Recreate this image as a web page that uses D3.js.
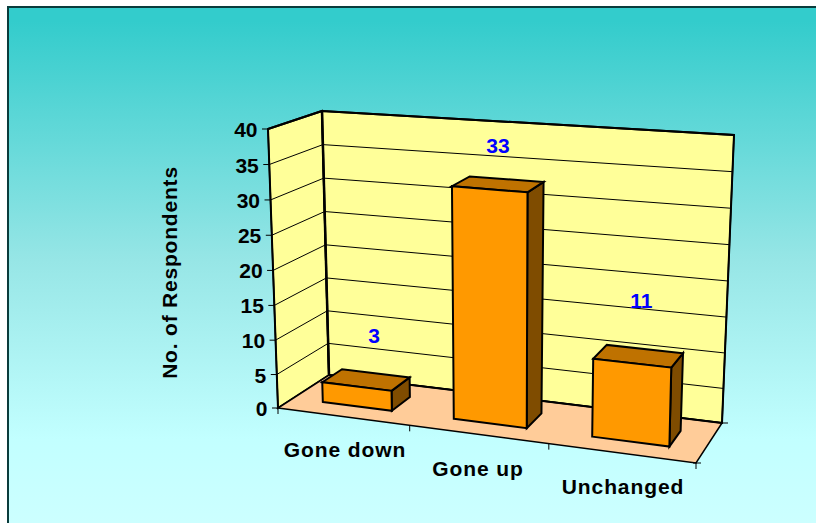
<!DOCTYPE html>
<html>
<head>
<meta charset="utf-8">
<script src="https://cdn.jsdelivr.net/npm/d3@7"></script>
<style>
  html, body { margin: 0; padding: 0; background: #fff; }
  svg { display: block; }
  text { font-family: "Liberation Sans", Arial, sans-serif; font-weight: bold; }
</style>
</head>
<body>
<div id="chart"></div>
<script>
// data
const categories = ["Gone down", "Gone up", "Unchanged"];
const respondents = [3, 33, 11];
const yTicks = [0, 5, 10, 15, 20, 25, 30, 35, 40];
const yTitle = "No. of Respondents";

const width = 816, height = 523;

const svg = d3.select("#chart").append("svg")
    .attr("width", width)
    .attr("height", height);

// background panel
const grad = svg.append("defs").append("linearGradient")
    .attr("id", "panel")
    .attr("gradientUnits", "userSpaceOnUse")
    .attr("x1", 0).attr("y1", 0).attr("x2", 0).attr("y2", 523);
grad.append("stop").attr("offset", "4%").attr("stop-color", "#33cccc");
grad.append("stop").attr("offset", "50%").attr("stop-color", "#97e6e6");
grad.append("stop").attr("offset", "84%").attr("stop-color", "#c2ffff");
grad.append("stop").attr("offset", "100%").attr("stop-color", "#ccffff");

svg.append("rect")
    .attr("x", 8).attr("y", 7)
    .attr("width", 830).attr("height", 530)
    .attr("fill", "url(#panel)")
    .attr("stroke", "#0a3c3c")
    .attr("stroke-width", 2);

// scales: category and depth run 0..1 across the box, value runs 0..1 up it
const xBand = d3.scaleBand().domain(categories).range([0, 1])
    .paddingInner(0.466).paddingOuter(0.233);
const xStep = d3.scaleLinear().domain([0, categories.length]).range([0, 1]);
// the value steps get slightly taller towards the top in the picture
const yScale = d3.scalePow().exponent(1.02).domain([0, 40]).range([0, 1]);

// box corners on screen: front-left, front-right, back-right, back-left
const floorQuad = [[278, 408], [696, 463], [722, 423], [329, 375]];
const topQuad = [[268, 129], [703, 163], [734, 135], [322, 111]];
const skew = 0.92; // the category axis is not quite even on screen

function warp(u) {
  return skew * u / (1 + (skew - 1) * u);
}

function bilerp(q, u, v) {
  const w = warp(u);
  return [0, 1].map(i =>
    (q[0][i] * (1 - w) + q[1][i] * w) * (1 - v) +
    (q[3][i] * (1 - w) + q[2][i] * w) * v);
}

function project(u, v, t) {
  const a = bilerp(floorQuad, u, v), b = bilerp(topQuad, u, v);
  return [a[0] + (b[0] - a[0]) * t, a[1] + (b[1] - a[1]) * t];
}

const line = d3.line();
function poly(pts, fill, sw) {
  return svg.append("path")
      .attr("d", line(pts) + "Z")
      .attr("fill", fill)
      .attr("stroke", "#000")
      .attr("stroke-width", sw)
      .attr("stroke-linejoin", "miter");
}
function seg(a, b, sw) {
  return svg.append("line")
      .attr("x1", a[0]).attr("y1", a[1])
      .attr("x2", b[0]).attr("y2", b[1])
      .attr("stroke", "#000")
      .attr("stroke-width", sw);
}

// walls and floor
poly([project(0, 0, 0), project(0, 1, 0), project(0, 1, 1), project(0, 0, 1)], "#ffff99", 2);
poly([project(0, 1, 0), project(1, 1, 0), project(1, 1, 1), project(0, 1, 1)], "#ffff99", 2);
poly([project(0, 0, 0), project(1, 0, 0), project(1, 1, 0), project(0, 1, 0)], "#ffcc99", 1.5);

// gridlines
yTicks.filter(d => d > 0 && d < 40).forEach(d => {
  const t = yScale(d);
  seg(project(0, 0, t), project(0, 1, t), 1);
  seg(project(0, 1, t), project(1, 1, t), 1);
});

// redraw the heavy edges over the grid ends
seg(project(0, 1, 0), project(0, 1, 1), 2.5);
seg(project(0, 0, 0), project(0, 0, 1), 1.5);
seg(project(0, 0, 1), project(0, 1, 1), 2);
seg(project(0, 1, 1), project(1, 1, 1), 2);
seg(project(1, 1, 0), project(1, 1, 1), 1.5);
seg(project(0, 1, 0), project(1, 1, 0), 2);

// value axis ticks and labels
yTicks.forEach(d => {
  const p = project(0, 0, yScale(d));
  seg([p[0] - 6, p[1]], p, 1);
  svg.append("text")
      .attr("x", p[0] - 10.5)
      .attr("y", p[1] + 0.5)
      .attr("dy", "0.36em")
      .attr("text-anchor", "end")
      .attr("font-size", 21)
      .text(d);
});

// category axis ticks
d3.range(categories.length + 1).forEach(i => {
  const p = project(xStep(i), 0, 0);
  seg(p, [p[0], p[1] + 6], 1);
});
const endFront = project(1, 0, 0), endBack = project(1, 1, 0);
seg([endFront[0] - 3, endFront[1]], [endFront[0] + 5, endFront[1]], 1);
seg(endBack, [endBack[0] + 6, endBack[1]], 1);

// category labels step down along the front edge
svg.selectAll(".cat")
    .data(categories)
    .enter()
    .append("text")
    .attr("class", "cat")
    .attr("text-anchor", "middle")
    .attr("font-size", 21)
    .attr("x", (d, i) => [345, 478, 623][i])
    .attr("y", (d, i) => [457, 476, 494][i])
    .attr("letter-spacing", "0.9px")
    .text(d => d);

// bars
const depth = [0.3, 0.7];
const liftLabel = [[8, -44], [0, -39], [3, -56]];
categories.forEach((c, i) => {
  const u0 = xBand(c), u1 = u0 + xBand.bandwidth();
  const t = yScale(respondents[i]);
  const [v0, v1] = depth;
  poly([project(u1, v0, 0), project(u1, v1, 0), project(u1, v1, t), project(u1, v0, t)], "#7f4c00", 2);
  poly([project(u0, v0, t), project(u1, v0, t), project(u1, v1, t), project(u0, v1, t)], "#bf7200", 2);
  poly([project(u0, v0, 0), project(u1, v0, 0), project(u1, v0, t), project(u0, v0, t)], "#ff9900", 2);

  const top = project(u0 + xBand.bandwidth() / 2, 0.5, t);
  svg.append("text")
      .attr("x", top[0] + liftLabel[i][0])
      .attr("y", top[1] + liftLabel[i][1])
      .attr("dy", "0.36em")
      .attr("text-anchor", "middle")
      .attr("font-size", 21)
      .attr("fill", "#0000ff")
      .text(respondents[i]);
});

// value axis title
svg.append("text")
    .attr("transform", "translate(177,272.5) rotate(-90)")
    .attr("text-anchor", "middle")
    .attr("font-size", 21)
    .attr("letter-spacing", "0.8px")
    .text(yTitle);
</script>
</body>
</html>
